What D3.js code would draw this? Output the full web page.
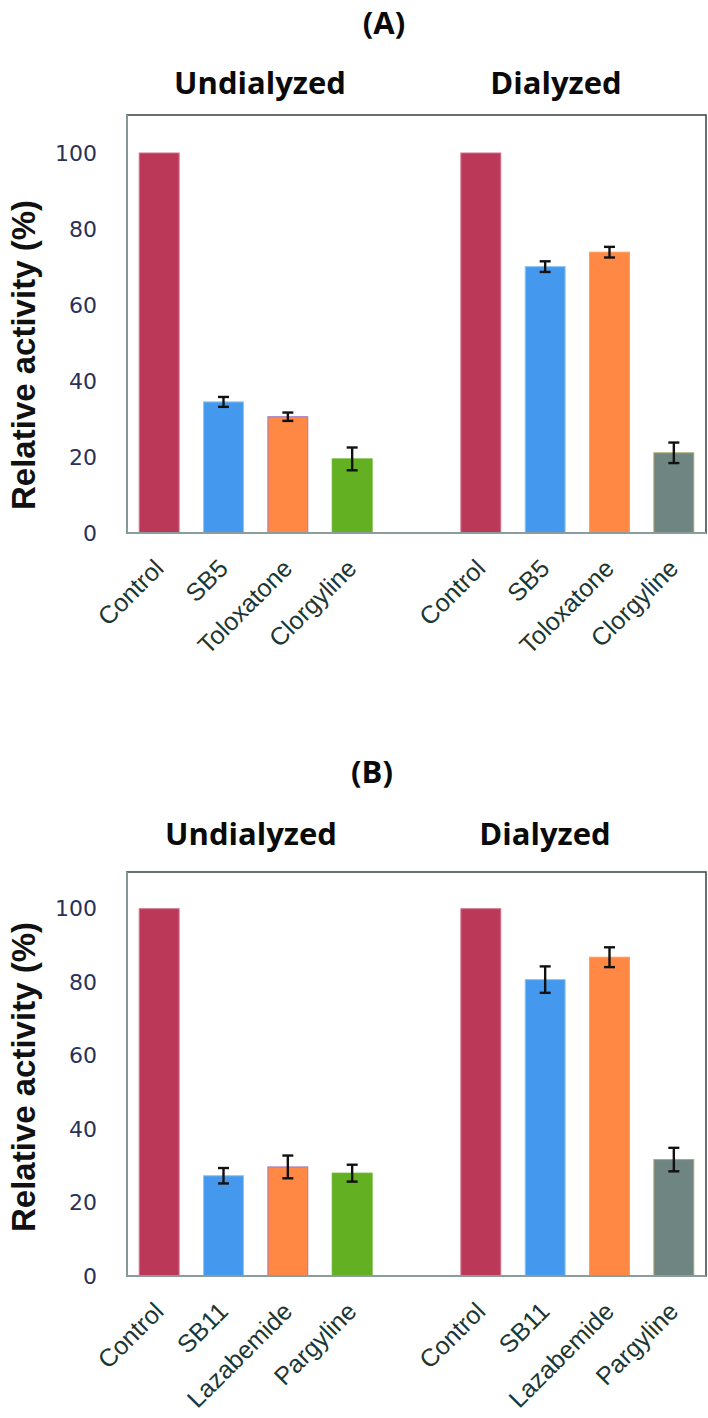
<!DOCTYPE html>
<html>
<head>
<meta charset="utf-8">
<script src="https://cdn.jsdelivr.net/npm/d3@7/dist/d3.min.js"></script>
<style>
  html, body { margin: 0; padding: 0; background: #ffffff; }
  svg { display: block; }
</style>
</head>
<body>
<div id="chart"></div>
<script>
// ---------- data ----------
const groups = ["Undialyzed", "Dialyzed"];
const yTicks = [0, 20, 40, 60, 80, 100];

const compoundsA = ["Control", "SB5", "Toloxatone", "Clorgyline"];
const undialyzedA = [100, 34.5, 30.6, 19.5];
const undialyzedErrA = [0, 1.3, 1.1, 3.0];
const dialyzedA = [100, 70.1, 73.9, 21.1];
const dialyzedErrA = [0, 1.4, 1.4, 2.7];

const compoundsB = ["Control", "SB11", "Lazabemide", "Pargyline"];
const undialyzedB = [100, 27.3, 29.7, 28.0];
const undialyzedErrB = [0, 2.1, 3.1, 2.3];
const dialyzedB = [100, 80.7, 86.8, 31.7];
const dialyzedErrB = [0, 3.6, 2.7, 3.2];

// ---------- styles ----------
const fillUndialyzed = ["#bb3858", "#4499ee", "#ff8844", "#63b022"];
const fillDialyzed   = ["#bb3858", "#4499ee", "#ff8844", "#6e8582"];
const strokeUndialyzed = ["#d0708a", "#8cc4f0", "#9a78c8", "#63b022"];
const strokeDialyzed   = ["#d0708a", "#8cc4f0", "#ff9a5c", "#a9a866"];

const W = 708, H = 1418;
const svg = d3.select("#chart").append("svg").attr("width", W).attr("height", H);

function panel(cfg) {
  const g = svg.append("g");
  const left = 127, right = 706;
  const y = d3.scaleLinear().domain([0, 110]).range([cfg.bottom, cfg.top]);

  // slots: 4 undialyzed, gap, 4 dialyzed
  const slots = [];
  cfg.compounds.forEach((c, i) => slots.push({key: "U" + i, label: c, v: cfg.undialyzed[i], e: cfg.undErr[i], fill: fillUndialyzed[i], stroke: strokeUndialyzed[i]}));
  slots.push({key: "gap", label: "", v: null});
  cfg.compounds.forEach((c, i) => slots.push({key: "D" + i, label: c, v: cfg.dialyzed[i], e: cfg.diaErr[i], fill: fillDialyzed[i], stroke: strokeDialyzed[i]}));

  const x = d3.scaleBand().domain(slots.map(d => d.key)).range([left, right])
    .paddingInner(0.38).paddingOuter(0.19);

  // frame
  g.append("rect")
    .attr("x", left).attr("y", y(110))
    .attr("width", right - left).attr("height", y(0) - y(110))
    .attr("fill", "none").attr("stroke", "#3f4f4d").attr("stroke-width", 1.6);

  const bars = slots.filter(d => d.v !== null);

  g.selectAll("rect.bar").data(bars).join("rect")
    .attr("class", "bar")
    .attr("x", d => x(d.key))
    .attr("y", d => y(d.v))
    .attr("width", x.bandwidth())
    .attr("height", d => y(0) - y(d.v))
    .attr("fill", d => d.fill)
    .attr("stroke", d => d.stroke)
    .attr("stroke-width", 1);

  // left & bottom axis lines (lighter)
  g.append("line").attr("x1", left).attr("x2", left).attr("y1", y(110)).attr("y2", y(0))
    .attr("stroke", "#8a9c9c").attr("stroke-width", 1.8);
  g.append("line").attr("x1", left).attr("x2", right).attr("y1", y(0)).attr("y2", y(0))
    .attr("stroke", "#8a9c9c").attr("stroke-width", 1.8);

  // error bars
  const eb = bars.filter(d => d.e > 0);
  const cap = 5.5;
  const eg = g.selectAll("g.err").data(eb).join("g").attr("class", "err")
    .attr("stroke", "#111").attr("stroke-width", 2.4);
  eg.append("line")
    .attr("x1", d => x(d.key) + x.bandwidth() / 2).attr("x2", d => x(d.key) + x.bandwidth() / 2)
    .attr("y1", d => y(d.v + d.e)).attr("y2", d => y(d.v - d.e));
  eg.append("line")
    .attr("x1", d => x(d.key) + x.bandwidth() / 2 - cap).attr("x2", d => x(d.key) + x.bandwidth() / 2 + cap)
    .attr("y1", d => y(d.v + d.e)).attr("y2", d => y(d.v + d.e));
  eg.append("line")
    .attr("x1", d => x(d.key) + x.bandwidth() / 2 - cap).attr("x2", d => x(d.key) + x.bandwidth() / 2 + cap)
    .attr("y1", d => y(d.v - d.e)).attr("y2", d => y(d.v - d.e));

  // y axis
  const ya = g.append("g").attr("transform", `translate(${left},0)`)
    .call(d3.axisLeft(y).tickValues(yTicks).tickSize(0).tickPadding(30));
  ya.select(".domain").remove();
  ya.selectAll("text")
    .attr("font-family", "'DejaVu Sans', Verdana, sans-serif")
    .attr("font-size", 22)
    .attr("fill", "#2a3158");

  // x axis labels
  const labelOf = {};
  slots.forEach(d => labelOf[d.key] = d.label);
  const xa = g.append("g").attr("transform", `translate(0,${y(0)})`)
    .call(d3.axisBottom(x).tickSize(0).tickFormat(k => labelOf[k]));
  xa.select(".domain").remove();
  xa.selectAll("text")
    .attr("font-family", "'Liberation Sans', Arial, sans-serif")
    .attr("font-size", 25)
    .attr("fill", "#1c3632")
    .attr("text-anchor", "end")
    .attr("x", 0).attr("y", 0).attr("dy", 0)
    .attr("transform", "translate(6,37) rotate(-45)");

  // y axis title
  g.append("text")
    .attr("transform", `translate(35,${cfg.yTitleCenter}) rotate(-90)`)
    .attr("text-anchor", "middle")
    .attr("font-family", "'Liberation Sans', Arial, sans-serif")
    .attr("font-weight", "bold")
    .attr("font-size", 33)
    .attr("fill", "#111")
    .text("Relative activity (%)");

  // titles
  g.append("text")
    .attr("x", cfg.titleX).attr("y", cfg.titleY)
    .attr("text-anchor", "middle")
    .attr("font-family", "'Open Sans', sans-serif")
    .attr("font-weight", "bold")
    .attr("font-size", 31)
    .attr("fill", "#0a0a0a")
    .text(cfg.title);

  g.selectAll("text.group").data(groups).join("text")
    .attr("class", "group")
    .attr("x", (d, i) => cfg.groupX[i]).attr("y", cfg.groupY)
    .attr("text-anchor", "middle")
    .attr("font-family", "'Open Sans', sans-serif")
    .attr("font-weight", "bold")
    .attr("font-size", 31)
    .attr("fill", "#0a0a0a")
    .text(d => d);
}

panel({
  top: 115, bottom: 533,
  compounds: compoundsA,
  undialyzed: undialyzedA, undErr: undialyzedErrA,
  dialyzed: dialyzedA, diaErr: dialyzedErrA,
  title: "(A)", titleX: 384, titleY: 34,
  groupX: [260, 556], groupY: 94,
  yTitleCenter: 355
});

panel({
  top: 872, bottom: 1276,
  compounds: compoundsB,
  undialyzedB: null,
  undialyzed: undialyzedB, undErr: undialyzedErrB,
  dialyzed: dialyzedB, diaErr: dialyzedErrB,
  title: "(B)", titleX: 372, titleY: 783,
  groupX: [251, 545], groupY: 845,
  yTitleCenter: 1077
});
</script>
</body>
</html>
